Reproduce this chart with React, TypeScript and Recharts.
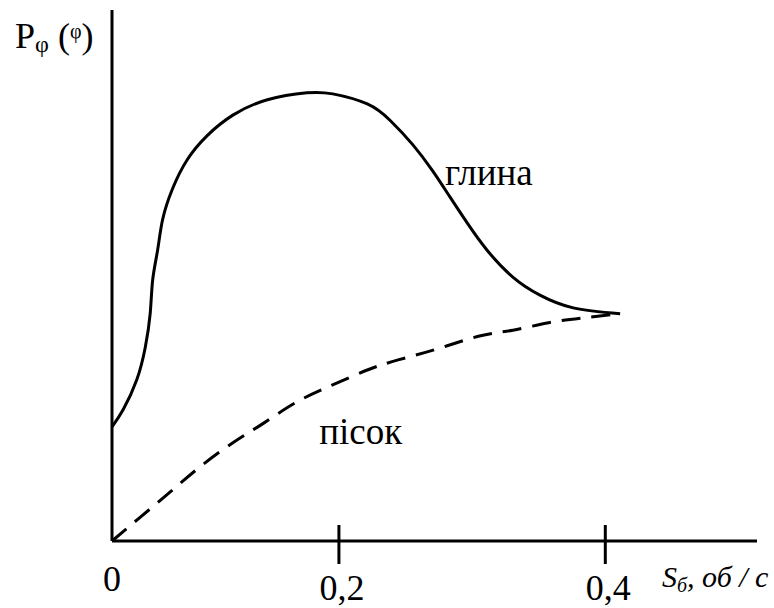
import { LineChart, Line, XAxis, YAxis, ReferenceDot } from "recharts"

// x in axis units (the "0,4" tick sits at 0.4), y as % of the axis height
const CLAY_X = [0, 0.009, 0.02, 0.027, 0.031, 0.033, 0.037, 0.041, 0.049, 0.061, 0.077, 0.098, 0.126, 0.158, 0.179, 0.207, 0.226, 0.244, 0.26, 0.274, 0.288, 0.304, 0.325, 0.347, 0.374, 0.412]
const CLAY_Y = [21.5, 24.7, 30.3, 36.5, 42.9, 49.2, 54.8, 60.5, 66.3, 71.8, 76.3, 80.2, 83.1, 84.4, 84.2, 82.3, 79.1, 74.6, 69.7, 64.8, 59.9, 54.8, 49.7, 46.3, 43.9, 42.8]

const SAND_X = [0, 0.023, 0.047, 0.071, 0.098, 0.123, 0.15, 0.179, 0.207, 0.232, 0.264, 0.298, 0.325, 0.354, 0.381, 0.412]
const SAND_Y = [0, 4.5, 9.2, 13.9, 18.5, 22.2, 26.2, 29.4, 32.2, 34.1, 36.2, 38.6, 39.7, 41.1, 42.0, 42.8]

// the drawn "0,2" tick is not halfway to "0,4" in the original sketch
const X_TICKS = [0, 0.184, 0.4]
const X_TICK_LABELS = ["0", "0,2", "0,4"]
const X_MAX = 0.523

const CURVE_LABELS = [
  { text: "глина", x: 0.27, y: 67 },
  { text: "пісок", x: 0.168, y: 18.3 },
]

const serif = { fontFamily: "'Liberation Serif', 'Times New Roman', serif" }

const clayData = CLAY_X.map((u, i) => ({ u, v: CLAY_Y[i] }))
const sandData = SAND_X.map((u, i) => ({ u, v: SAND_Y[i] }))

const XTick = ({ x, y, payload, index }: any) => {
  const isOrigin = payload.value === 0
  return (
    <g>
      {!isOrigin && <line x1={x} x2={x} y1={y - 16} y2={y + 23} stroke="#000" strokeWidth={3} />}
      <text
        x={x + (isOrigin ? 0 : 3)}
        y={y + (isOrigin ? 50 : 59)}
        textAnchor="middle"
        style={serif}
        fontSize={36}
        fill="#000"
      >
        {X_TICK_LABELS[index]}
      </text>
    </g>
  )
}

const XTitle = () => (
  <text x={662} y={587} style={{ ...serif, fontStyle: "italic" }} fontSize={30} fill="#000">
    S
    <tspan fontSize={20} dy={5}>б</tspan>
    <tspan fontSize={30} dy={-5}>, об / с</tspan>
  </text>
)

const YTitle = () => (
  <text x={15} y={48} style={serif} fontSize={36} fill="#000">
    P
    <tspan fontSize={24} dy={4}>φ</tspan>
    <tspan fontSize={36} dy={-4}> (</tspan>
    <tspan fontSize={20} dy={-10}>φ</tspan>
    <tspan fontSize={36} dy={10}>)</tspan>
  </text>
)

const CurveLabel = ({ viewBox, value }: any) => (
  <text x={viewBox.x} y={viewBox.y} style={serif} fontSize={37} fill="#000">
    {value}
  </text>
)

export default function App() {
  return (
    <div style={{ position: "absolute", left: 0, top: 0, width: 774, height: 608, background: "#fff" }}>
      <LineChart width={774} height={608} margin={{ top: 10, right: 17, bottom: 0, left: 0 }}>
        <XAxis
          type="number"
          dataKey="u"
          domain={[0, X_MAX]}
          ticks={X_TICKS}
          interval={0}
          height={67}
          tickSize={0}
          tickMargin={0}
          tickLine={false}
          axisLine={{ stroke: "#000", strokeWidth: 3 }}
          tick={<XTick />}
          label={{ content: <XTitle /> }}
        />
        <YAxis
          type="number"
          domain={[0, 100]}
          width={112}
          tick={false}
          tickLine={false}
          axisLine={{ stroke: "#000", strokeWidth: 3 }}
          label={{ content: <YTitle /> }}
        />
        <Line
          data={clayData}
          dataKey="v"
          type="natural"
          stroke="#000"
          strokeWidth={3}
          dot={false}
          activeDot={false}
          isAnimationActive={false}
        />
        <Line
          data={sandData}
          dataKey="v"
          type="natural"
          stroke="#000"
          strokeWidth={3}
          strokeDasharray="19 11"
          dot={false}
          activeDot={false}
          isAnimationActive={false}
        />
        {CURVE_LABELS.map((l) => (
          <ReferenceDot
            key={l.text}
            x={l.x}
            y={l.y}
            r={0}
            fill="none"
            stroke="none"
            label={{ content: <CurveLabel />, value: l.text }}
          />
        ))}
      </LineChart>
    </div>
  )
}
